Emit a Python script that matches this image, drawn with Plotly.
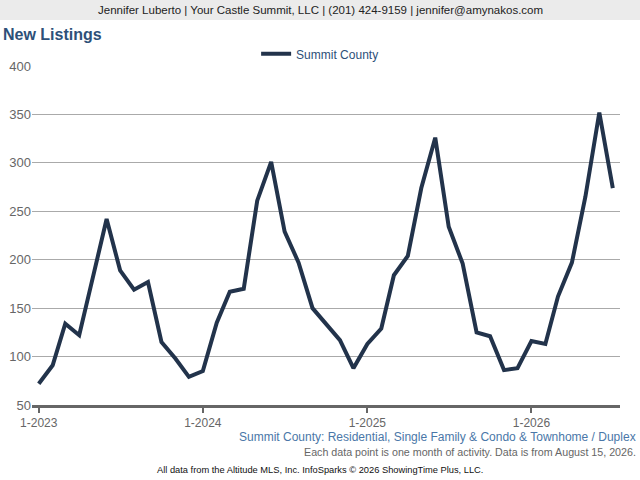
import plotly.graph_objects as go

# monthly new listings, Jan 2023 .. Jul 2026
months = [f"{y}-{m:02d}-01" for y in range(2023, 2027) for m in range(1, 13)][:43]
new_listings = [
    72, 91, 134, 122, 181, 242, 189, 169, 177, 115, 98, 79,
    85, 135, 167, 170, 261, 301, 229, 197, 150, 133, 117, 88,
    113, 129, 184, 204, 274, 326, 234, 196, 125, 121, 86, 88,
    116, 113, 162, 197, 265, 352, 274,
]
x_tickvals = ["2023-01-01", "2024-01-01", "2025-01-01", "2026-01-01"]
x_ticktext = ["1-2023", "1-2024", "1-2025", "1-2026"]
y_tickvals = [50, 100, 150, 200, 250, 300, 350, 400]

NAVY = "#22334b"
BLUE = "#2d5078"
GREY = "#666666"
FONT = "Liberation Sans, Arial, sans-serif"

fig = go.Figure()
fig.add_trace(go.Scatter(
    x=months,
    y=new_listings,
    mode="lines",
    name="Summit County",
    line=dict(color=NAVY, width=4),
))

fig.update_layout(
    width=640,
    height=480,
    margin=dict(l=32, r=20, t=66, b=75, autoexpand=False),
    paper_bgcolor="white",
    plot_bgcolor="white",
    font=dict(family=FONT, color=GREY, size=12),
    showlegend=True,
    legend=dict(
        orientation="h",
        x=0.49, xanchor="center",
        y=0.993, yanchor="bottom",
        font=dict(color=BLUE, size=12),
        itemwidth=30,
    ),
    shapes=[
        # header strip across the whole page width
        dict(type="rect", xref="paper", yref="paper",
             x0=-0.055, x1=1.035, y0=1.136, y1=1.2,
             fillcolor="#ebebeb", line_width=0, layer="below"),
    ],
    annotations=[
        dict(text="Jennifer Luberto | Your Castle Summit, LLC | (201) 424-9159 | jennifer@amynakos.com",
             xref="paper", yref="paper", x=0.49, y=1.165, xanchor="center", yanchor="middle",
             showarrow=False, font=dict(color="#222222", size=11.5)),
        dict(text="<b>New Listings</b>",
             xref="paper", yref="paper", x=-0.053, y=1.094, xanchor="left", yanchor="middle",
             showarrow=False, font=dict(color=BLUE, size=16)),
        dict(text="Summit County: Residential, Single Family & Condo & Townhome / Duplex",
             xref="paper", yref="paper", x=1.031, y=-0.094, xanchor="right", yanchor="middle",
             showarrow=False, font=dict(color="#4a77a8", size=12)),
        dict(text="Each data point is one month of activity. Data is from August 15, 2026.",
             xref="paper", yref="paper", x=1.031, y=-0.139, xanchor="right", yanchor="middle",
             showarrow=False, font=dict(color=GREY, size=10.7)),
        dict(text="All data from the Altitude MLS, Inc. InfoSparks © 2026 ShowingTime Plus, LLC.",
             xref="paper", yref="paper", x=0.49, y=-0.192, xanchor="center", yanchor="middle",
             showarrow=False, font=dict(color="#111111", size=9.3)),
    ],
)

fig.update_xaxes(
    range=["2022-12-17", "2026-07-17"],
    tickvals=x_tickvals,
    ticktext=x_ticktext,
    showgrid=False,
    showline=True,
    linecolor=GREY,
    linewidth=3,
    ticks="outside",
    ticklen=5,
    tickwidth=2,
    tickcolor=GREY,
    tickfont=dict(color=GREY, size=12),
    zeroline=False,
)
fig.update_yaxes(
    range=[50, 400],
    tickvals=y_tickvals,
    showgrid=True,
    gridcolor="#aaaaaa",
    gridwidth=1,
    tickfont=dict(color=GREY, size=13),
    ticks="",
    zeroline=False,
)

# drop the page's default body margin so the 640x480 figure sits at the corner
fig.write_html(
    "out.html",
    config={"displayModeBar": False},
    post_script="document.body.style.margin = '0px';",
)
